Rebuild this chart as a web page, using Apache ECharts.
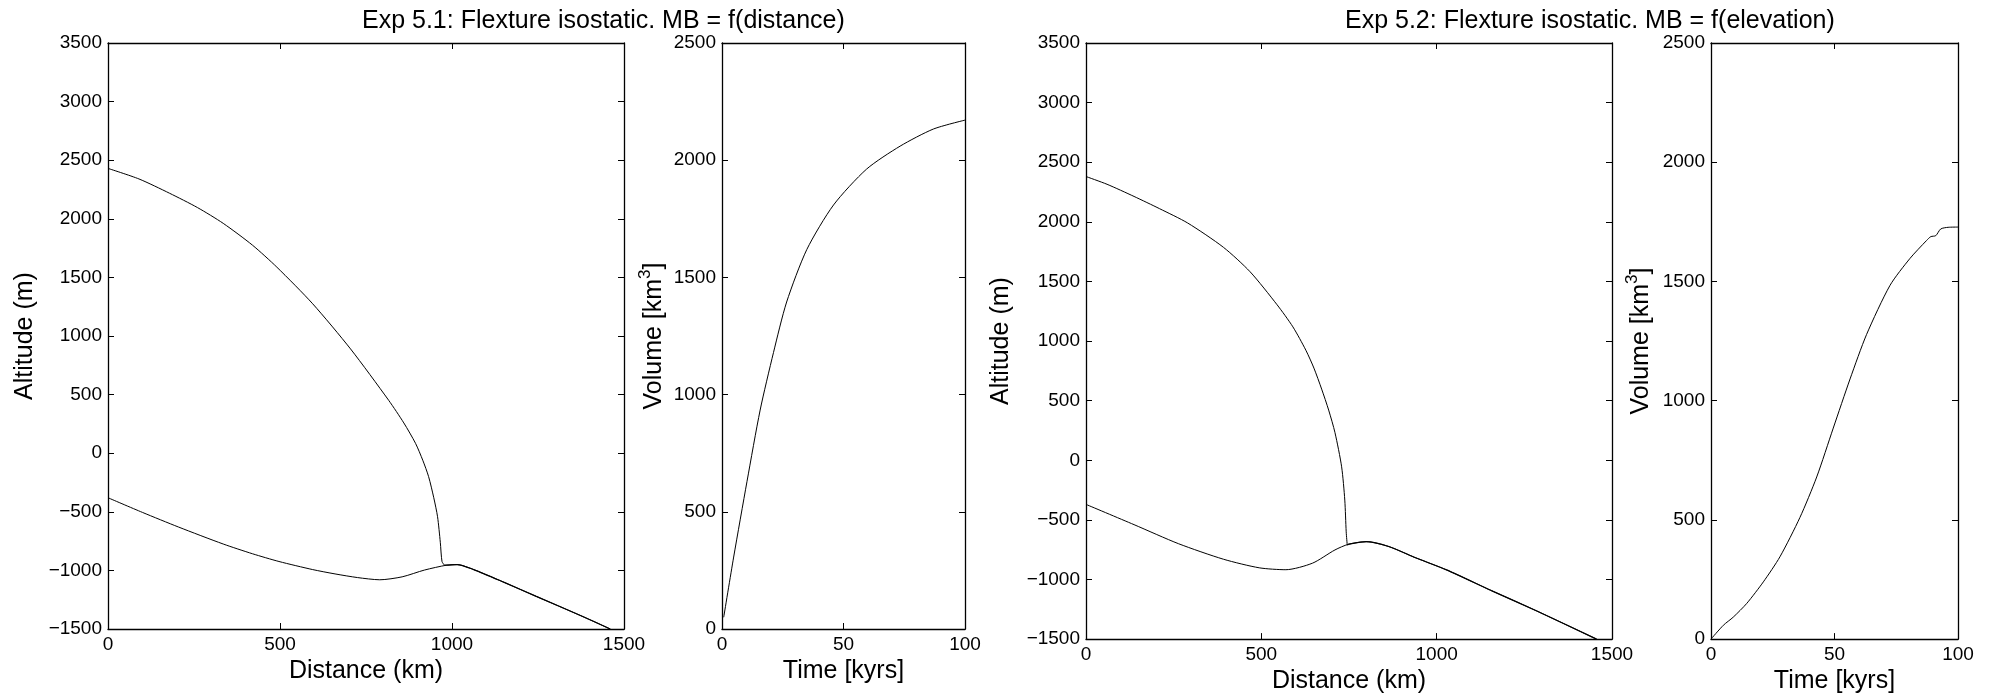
<!DOCTYPE html>
<html><head><meta charset="utf-8">
<script src="https://cdn.jsdelivr.net/npm/echarts@6/dist/echarts.min.js"></script>
<style>html,body{margin:0;padding:0;background:#fff}#c{width:1998px;height:699px}</style>
</head><body><div id="c"></div>
<script>
// ---------- text ----------
const titles = ['Exp 5.1: Flexture isostatic. MB = f(distance)', 'Exp 5.2: Flexture isostatic. MB = f(elevation)'];
const distName = 'Distance (km)';
const altName = 'Altitude (m)';
const timeName = 'Time [kyrs]';
const volName = '{a|Volume [km}{s|3}{a|]}';

// ---------- axis ranges / ticks ----------
const distTicks = [0, 500, 1000, 1500];
const altTicks = [-1500, -1000, -500, 0, 500, 1000, 1500, 2000, 2500, 3000, 3500];
const timeTicks = [0, 50, 100];
const volTicks = [0, 500, 1000, 1500, 2000, 2500];

// ---------- Exp 5.1 profile ----------
const e51IceX = [0, 90, 179, 260, 335, 420, 491, 595, 705, 816, 860, 894, 915, 932, 947, 958, 966, 971, 978];
const e51IceY = [2430, 2340, 2218, 2096, 1961, 1775, 1587, 1275, 890, 451, 258, 84, -60, -200, -380, -542, -760, -925, -955];
const e51BedX = [0, 100, 205, 335, 420, 497, 595, 660, 725, 790, 855, 920, 985, 1015, 1063, 1150, 1245, 1375, 1460];
const e51BedY = [-380, -505, -630, -775, -858, -924, -993, -1030, -1061, -1080, -1055, -997, -955, -950, -993, -1100, -1222, -1387, -1500];

// ---------- Exp 5.1 volume ----------
const e51TimeX = [0.7, 4.8, 10.3, 15.7, 21.2, 26.6, 34.9, 45.9, 59.5, 73.3, 87, 100];
const e51VolY = [50, 307, 630, 934, 1180, 1395, 1619, 1809, 1962, 2060, 2133, 2171];

// ---------- Exp 5.2 profile ----------
const e52IceX = [0, 60, 137, 210, 290, 392, 468, 545, 590, 627, 650, 672, 692, 710, 729, 738, 742, 745];
const e52IceY = [2380, 2315, 2213, 2110, 1990, 1786, 1581, 1304, 1119, 923, 773, 597, 421, 232, -55, -334, -600, -712];
const e52BedX = [0, 137, 264, 392, 494, 570, 646, 710, 748, 799, 863, 940, 1028, 1156, 1284, 1456];
const e52BedY = [-370, -540, -700, -830, -902, -918, -863, -752, -705, -683, -723, -818, -919, -1093, -1262, -1500];

// ---------- Exp 5.2 volume ----------
const e52TimeX = [0, 5, 9, 14.5, 21.2, 27.9, 36, 42.8, 49.5, 56.3, 63, 72.5, 80.6, 87.3, 89, 91, 93, 96, 100];
const e52VolY = [0, 58, 92, 150, 240, 345, 510, 680, 885, 1091, 1278, 1484, 1597, 1672, 1688, 1692, 1720, 1727, 1728];

// ---------- helpers ----------
const pair = (xs, ys) => xs.map((x, i) => [x, ys[i]]);
const onBed = (bx, by, x0, y0) => [[x0, y0]].concat(pair(bx, by).filter(p => p[0] > x0));
const FONT = "'Liberation Sans', Arial, Helvetica, sans-serif";
const minus = v => String(v).replace('-', '\u2212');

const grids = [
  {left: 108, top: 43, width: 516, height: 586},
  {left: 722, top: 43, width: 243, height: 586},
  {left: 1086, top: 43, width: 526, height: 597},
  {left: 1711, top: 43, width: 247, height: 597}
];

function axisPair(kind, gi, ticks, name, gap, isVol) {
  const min = ticks[0], max = ticks[ticks.length - 1], interval = ticks[1] - ticks[0];
  const common = {
    type: 'value', gridIndex: gi, min, max, interval,
    axisLine: {show: true, onZero: false, lineStyle: {color: '#000', width: 1.3}},
    axisTick: {show: true, inside: true, length: 6, lineStyle: {color: '#000', width: 1}},
    splitLine: {show: false}
  };
  const main = Object.assign({}, common, {
    position: kind === 'x' ? 'bottom' : 'left',
    axisLabel: {show: true, margin: 6, fontSize: 19, color: '#000', fontFamily: FONT, formatter: minus},
    name: name, nameLocation: 'middle', nameGap: gap,
    nameTextStyle: {fontSize: 25, color: '#000', fontFamily: FONT}
  });
  if (kind === 'y') main.nameRotate = 90;
  if (isVol) {
    main.nameTextStyle.rich = {
      a: {fontSize: 25, fontFamily: FONT, color: '#000', lineHeight: 30, verticalAlign: 'bottom'},
      s: {fontSize: 17, fontFamily: FONT, color: '#000', lineHeight: 17, verticalAlign: 'top'}
    };
  }
  const mirror = Object.assign({}, common, {
    position: kind === 'x' ? 'top' : 'right',
    axisLabel: {show: false}
  });
  return [main, mirror];
}

const xAxis = [].concat(
  axisPair('x', 0, distTicks, distName, 27),
  axisPair('x', 1, timeTicks, timeName, 27),
  axisPair('x', 2, distTicks, distName, 27),
  axisPair('x', 3, timeTicks, timeName, 27)
);
const yAxis = [].concat(
  axisPair('y', 0, altTicks, altName, 70),
  axisPair('y', 1, volTicks, volName, 55, true),
  axisPair('y', 2, altTicks, altName, 72),
  axisPair('y', 3, volTicks, volName, 57, true)
);

function line(gi, data, width) {
  return {
    type: 'line', xAxisIndex: gi * 2, yAxisIndex: gi * 2, data: data,
    showSymbol: false, symbol: 'none', smooth: 0.25,
    lineStyle: {color: '#000', width: width || 1}, silent: true
  };
}

const option = {
  animation: false,
  backgroundColor: '#fff',
  title: [
    {text: titles[0], left: 357, top: 4, textStyle: {fontSize: 25, fontWeight: 'normal', color: '#000', fontFamily: FONT}},
    {text: titles[1], left: 1340, top: 4, textStyle: {fontSize: 25, fontWeight: 'normal', color: '#000', fontFamily: FONT}}
  ],
  grid: grids,
  xAxis: xAxis,
  yAxis: yAxis,
  series: [
    line(0, pair(e51IceX, e51IceY)),
    line(0, pair(e51BedX, e51BedY)),
    line(0, onBed(e51BedX, e51BedY, e51IceX[e51IceX.length - 1], e51IceY[e51IceY.length - 1]), 1.2),
    line(1, pair(e51TimeX, e51VolY)),
    line(2, pair(e52IceX, e52IceY)),
    line(2, pair(e52BedX, e52BedY)),
    line(2, onBed(e52BedX, e52BedY, e52IceX[e52IceX.length - 1], e52IceY[e52IceY.length - 1]), 1.2),
    line(3, pair(e52TimeX, e52VolY))
  ]
};
const chart = echarts.init(document.getElementById('c'), null, {renderer: 'canvas'});
chart.setOption(option);
</script></body></html>
